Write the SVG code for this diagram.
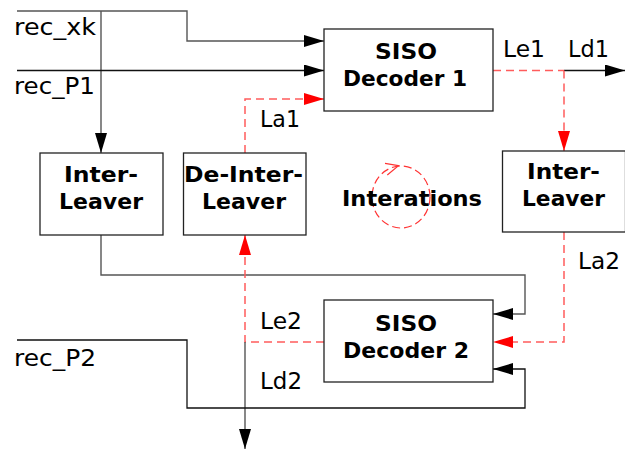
<svg xmlns="http://www.w3.org/2000/svg" width="625" height="450" viewBox="0 0 625 450">
<style>
.box{fill:#fff;stroke:#222;stroke-width:1.3}
.t{font-family:"DejaVu Sans",Verdana,sans-serif;font-size:22.5px;fill:#000}
.b{font-family:"DejaVu Sans",Verdana,sans-serif;font-size:20.5px;font-weight:bold;fill:#000;text-anchor:middle}
.g{fill:none;stroke:#555;stroke-width:1.4}
.k{fill:none;stroke:#111;stroke-width:1.3}
.r{fill:none;stroke:#ff5c5c;stroke-width:1.5;stroke-dasharray:8 5}
</style>
<defs>
<marker id="ak" markerUnits="userSpaceOnUse" markerWidth="20" markerHeight="12" refX="20" refY="6" orient="auto"><path d="M0,0 L20,6 L0,12 z" fill="#000"/></marker>
<marker id="ar" markerUnits="userSpaceOnUse" markerWidth="20" markerHeight="12" refX="20" refY="6" orient="auto"><path d="M0,0 L20,6 L0,12 z" fill="#f00"/></marker>
</defs>
<g id="connectors">
<polyline class="g" points="17,11 187,11 187,41 324,41" marker-end="url(#ak)"/>
<line class="g" x1="101" y1="11" x2="101" y2="153" marker-end="url(#ak)"/>
<line class="k" x1="17" y1="70.5" x2="324" y2="70.5" marker-end="url(#ak)"/>
<polyline class="r" points="245,153 245,99 324,99" marker-end="url(#ar)"/>
<line class="r" x1="493" y1="70.5" x2="564" y2="70.5"/>
<line class="k" x1="564" y1="70.5" x2="625" y2="70.5" marker-end="url(#ak)"/>
<line class="r" x1="564" y1="70.5" x2="564" y2="151" marker-end="url(#ar)"/>
<polyline class="g" points="101,235 101,275 525,275 525,314 493,314" marker-end="url(#ak)"/>
<polyline class="r" points="564,232 564,342 493,342" marker-end="url(#ar)"/>
<polyline class="r" points="324,342 245,342 245,235" marker-end="url(#ar)"/>
<line class="g" x1="245" y1="342" x2="245" y2="449" marker-end="url(#ak)"/>
<polyline class="k" points="17,340 187,340 187,408 525,408 525,369 493,369" marker-end="url(#ak)"/>
</g>
<g id="labels">
<text class="t" x="14" y="35" textLength="82" lengthAdjust="spacingAndGlyphs">rec_xk</text>
<text class="t" x="14" y="94" textLength="81" lengthAdjust="spacingAndGlyphs">rec_P1</text>
<text class="t" x="260" y="127" textLength="40" lengthAdjust="spacingAndGlyphs">La1</text>
<text class="t" x="503" y="57" textLength="42" lengthAdjust="spacingAndGlyphs">Le1</text>
<text class="t" x="568" y="57" textLength="41" lengthAdjust="spacingAndGlyphs">Ld1</text>
<text class="t" x="578" y="269" textLength="42" lengthAdjust="spacingAndGlyphs">La2</text>
<text class="t" x="260" y="329" textLength="42" lengthAdjust="spacingAndGlyphs">Le2</text>
<text class="t" x="260" y="389" textLength="42" lengthAdjust="spacingAndGlyphs">Ld2</text>
<text class="t" x="14" y="366" textLength="82" lengthAdjust="spacingAndGlyphs">rec_P2</text>
</g>
<g id="decoder1">
<rect class="box" x="324" y="29" width="169" height="82"/>
<text class="b" x="406" y="59" textLength="62" lengthAdjust="spacingAndGlyphs">SISO</text>
<text class="b" x="405" y="86" textLength="124" lengthAdjust="spacingAndGlyphs">Decoder 1</text>
</g>
<g id="decoder2">
<rect class="box" x="324" y="300" width="169" height="82"/>
<text class="b" x="406" y="331" textLength="62" lengthAdjust="spacingAndGlyphs">SISO</text>
<text class="b" x="406" y="358" textLength="126" lengthAdjust="spacingAndGlyphs">Decoder 2</text>
</g>
<g id="interleaver1">
<rect class="box" x="40" y="153" width="123" height="82"/>
<text class="b" x="101" y="182" textLength="74" lengthAdjust="spacingAndGlyphs">Inter-</text>
<text class="b" x="101" y="209" textLength="84" lengthAdjust="spacingAndGlyphs">Leaver</text>
</g>
<g id="deinterleaver">
<rect class="box" x="183.5" y="153" width="122.5" height="82"/>
<text class="b" x="243.5" y="182" textLength="119" lengthAdjust="spacingAndGlyphs">De-Inter-</text>
<text class="b" x="244" y="209" textLength="84" lengthAdjust="spacingAndGlyphs">Leaver</text>
</g>
<g id="interleaver2">
<rect class="box" x="502.5" y="151" width="123" height="81"/>
<text class="b" x="563.5" y="179" textLength="73" lengthAdjust="spacingAndGlyphs">Inter-</text>
<text class="b" x="563.5" y="206" textLength="83" lengthAdjust="spacingAndGlyphs">Leaver</text>
</g>
<g id="iterations">
<ellipse cx="401" cy="197" rx="29" ry="31" fill="none" stroke="#f33" stroke-width="1.2" stroke-dasharray="8 4"/>
<polyline points="385,163.3 398.5,165.7 387.3,175" fill="none" stroke="#f33" stroke-width="1.2"/>
<text class="b" x="412" y="206" textLength="140" lengthAdjust="spacingAndGlyphs">Interations</text>
</g>
</svg>
